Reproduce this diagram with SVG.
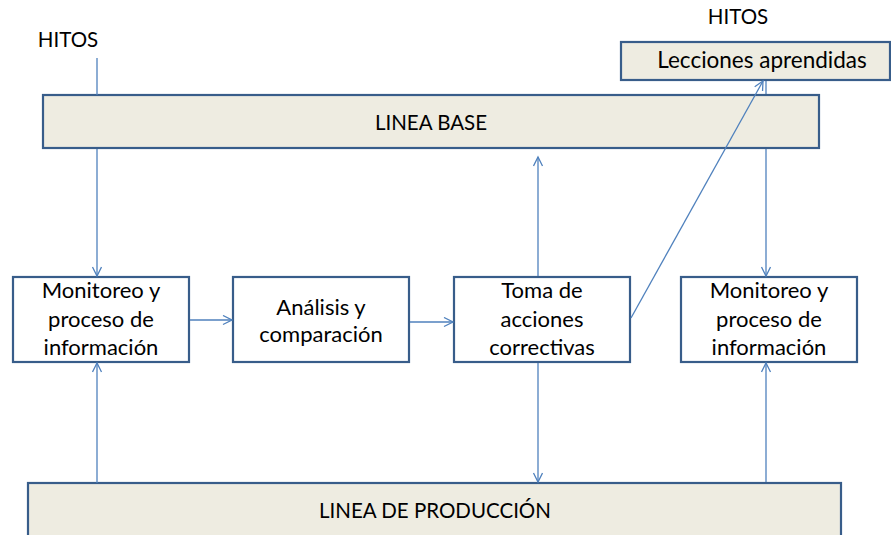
<svg xmlns="http://www.w3.org/2000/svg" width="891" height="535" viewBox="0 0 891 535">
<defs>
<marker id="arr" markerWidth="12" markerHeight="12" refX="10" refY="5" orient="auto" markerUnits="userSpaceOnUse">
<path d="M1,0.5 L10,5 L1,9.5" fill="none" stroke="#4F81BD" stroke-width="1.3"/>
</marker>
<style>
.band{fill:#EEECE1;stroke:#385D8A;stroke-width:2.2}
.box{fill:#FFFFFF;stroke:#385D8A;stroke-width:2.2}
.t{font-family:Lato,"Liberation Sans",sans-serif;font-size:20.5px;fill:#000;text-anchor:middle}
.b{font-size:22px}
.c{fill:none;stroke:#4F81BD;stroke-width:1.3}
.ca{fill:none;stroke:#4F81BD;stroke-width:1.3;marker-end:url(#arr)}
</style>
</defs>
<rect width="891" height="535" fill="#FFFFFF"/>
<g id="connectors-back">
<line class="c" x1="766" y1="80" x2="766" y2="96"/>
</g>
<g id="hitos-left"><text class="t" x="68" y="47">HITOS</text></g>
<g id="hitos-right"><text class="t" x="738" y="24">HITOS</text></g>
<g id="linea-base">
<rect class="band" x="43" y="95" width="776" height="53"/>
<text class="t" x="431" y="130">LINEA BASE</text>
</g>
<g id="lecciones">
<rect class="band" x="621" y="42" width="269" height="38"/>
<text class="t" x="762" y="68" style="font-size:22.5px">Lecciones aprendidas</text>
</g>
<g id="linea-produccion">
<rect class="band" x="28" y="483" width="813" height="60"/>
<text class="t" x="435" y="518">LINEA DE PRODUCCIÓN</text>
</g>
<g id="monitoreo1">
<rect class="box" x="13" y="277" width="176" height="85"/>
<text class="t b" x="101" y="298">Monitoreo y</text>
<text class="t b" x="101" y="327">proceso de</text>
<text class="t b" x="101" y="355">información</text>
</g>
<g id="analisis">
<rect class="box" x="233" y="277" width="176" height="85"/>
<text class="t b" x="321" y="315">Análisis y</text>
<text class="t b" x="321" y="342">comparación</text>
</g>
<g id="toma">
<rect class="box" x="454" y="277" width="176" height="85"/>
<text class="t b" x="542" y="298">Toma de</text>
<text class="t b" x="542" y="327">acciones</text>
<text class="t b" x="542" y="355">correctivas</text>
</g>
<g id="monitoreo2">
<rect class="box" x="681" y="277" width="176" height="85"/>
<text class="t b" x="769" y="298">Monitoreo y</text>
<text class="t b" x="769" y="327">proceso de</text>
<text class="t b" x="769" y="355">información</text>
</g>
<g id="connectors">
<line class="c" x1="97" y1="58" x2="97" y2="95"/>
<line class="ca" x1="97" y1="149" x2="97" y2="276"/>
<line class="ca" x1="97" y1="483" x2="97" y2="363"/>
<line class="ca" x1="190" y1="320" x2="232" y2="320"/>
<line class="ca" x1="410" y1="322" x2="453" y2="322"/>
<line class="ca" x1="538" y1="276" x2="538" y2="157"/>
<line class="ca" x1="538" y1="363" x2="538" y2="482"/>
<line class="ca" x1="631" y1="318" x2="763" y2="81"/>
<line class="ca" x1="766" y1="149" x2="766" y2="276"/>
<line class="ca" x1="766" y1="482" x2="766" y2="363"/>
</g>
</svg>
